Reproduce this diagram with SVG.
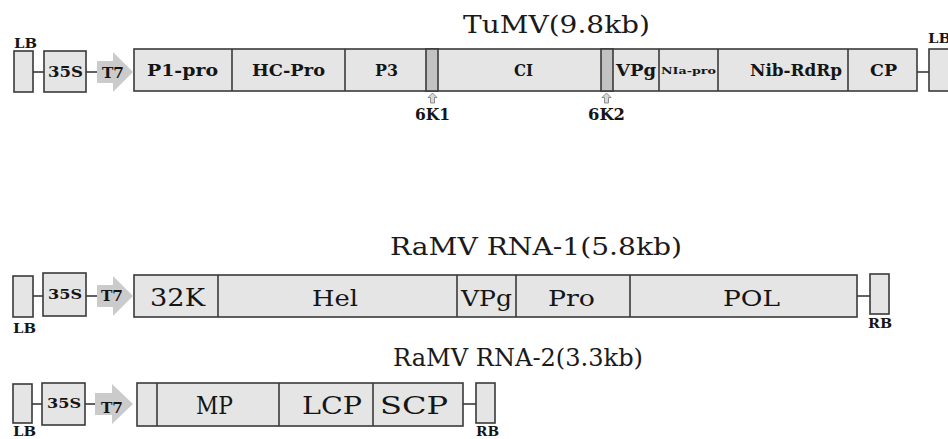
<svg xmlns="http://www.w3.org/2000/svg" width="948" height="439" viewBox="0 0 948 439">
<style>
.bg{fill:#ffffff}
.box{fill:#e5e5e5;stroke:#3a3a3a;stroke-width:1.6}
.strip{fill:#c2c2c2;stroke:#3a3a3a;stroke-width:1.6}
.div{stroke:#3a3a3a;stroke-width:1.6;fill:none}
.ln{stroke:#3a3a3a;stroke-width:1.6;fill:none}
.arr{fill:#cbcbcb}
.mk{fill:#d8d8d8;stroke:#777;stroke-width:0.8}
.b{font-family:"DejaVu Serif","Liberation Serif",serif;font-weight:bold;fill:#151515}
.r{font-family:"DejaVu Serif","Liberation Serif",serif;font-weight:normal;fill:#151515}
.t{font-family:"DejaVu Serif","Liberation Serif",serif;font-weight:normal;fill:#1a1a1a}
</style>
<rect class="bg" x="0" y="0" width="948" height="439"/>

<!-- ===== TuMV ===== -->
<text class="t" x="463" y="33" font-size="25" textLength="187" lengthAdjust="spacingAndGlyphs">TuMV(9.8kb)</text>
<g id="tumv-connectors">
  <line class="ln" x1="33" y1="72" x2="44" y2="72"/>
  <line class="ln" x1="86" y1="72" x2="97" y2="72"/>
  <line class="ln" x1="917" y1="72" x2="929" y2="72"/>
</g>
<g id="tumv-lb">
  <rect class="box" x="14" y="51" width="19" height="41"/>
  <text class="b" x="14" y="48" font-size="13" textLength="23" lengthAdjust="spacingAndGlyphs">LB</text>
</g>
<g id="tumv-35s">
  <rect class="box" x="44" y="51" width="42" height="41"/>
  <text class="b" x="48" y="77" font-size="14" textLength="35" lengthAdjust="spacingAndGlyphs">35S</text>
</g>
<g id="tumv-t7">
  <polygon class="arr" points="97,61 113,61 113,52 133,72 113,92 113,83 97,83"/>
  <text class="b" x="102" y="78" font-size="15" textLength="22" lengthAdjust="spacingAndGlyphs">T7</text>
</g>
<g id="tumv-genome">
  <rect class="box" x="134" y="49" width="783" height="42"/>
  <rect class="strip" x="426" y="49" width="12" height="42"/>
  <rect class="strip" x="601" y="49" width="12" height="42"/>
  <line class="div" x1="232" y1="49" x2="232" y2="91"/>
  <line class="div" x1="345" y1="49" x2="345" y2="91"/>
  <line class="div" x1="659" y1="49" x2="659" y2="91"/>
  <line class="div" x1="718" y1="49" x2="718" y2="91"/>
  <line class="div" x1="848" y1="49" x2="848" y2="91"/>
  <text class="b" x="147" y="76" font-size="16" textLength="71" lengthAdjust="spacingAndGlyphs">P1-pro</text>
  <text class="b" x="252" y="76" font-size="16" textLength="73" lengthAdjust="spacingAndGlyphs">HC-Pro</text>
  <text class="b" x="375" y="76" font-size="16" textLength="23" lengthAdjust="spacingAndGlyphs">P3</text>
  <text class="b" x="514" y="76" font-size="16" textLength="19" lengthAdjust="spacingAndGlyphs">CI</text>
  <text class="b" x="616" y="76" font-size="16" textLength="40" lengthAdjust="spacingAndGlyphs">VPg</text>
  <text class="b" x="661" y="74" font-size="9" textLength="55" lengthAdjust="spacingAndGlyphs">NIa-pro</text>
  <text class="b" x="750" y="76" font-size="16" textLength="92" lengthAdjust="spacingAndGlyphs">Nib-RdRp</text>
  <text class="b" x="870" y="76" font-size="16" textLength="27" lengthAdjust="spacingAndGlyphs">CP</text>
</g>
<g id="tumv-6k1">
  <polygon class="mk" points="432.5,93 437,97.5 434.5,97.5 434.5,103 430.5,103 430.5,97.5 428,97.5"/>
  <text class="b" x="415" y="120" font-size="16" textLength="35" lengthAdjust="spacingAndGlyphs">6K1</text>
</g>
<g id="tumv-6k2">
  <polygon class="mk" points="606.5,93 611,97.5 608.5,97.5 608.5,103 604.5,103 604.5,97.5 602,97.5"/>
  <text class="b" x="588" y="120" font-size="16" textLength="37" lengthAdjust="spacingAndGlyphs">6K2</text>
</g>
<g id="tumv-lb-right">
  <rect class="box" x="929" y="49" width="20" height="42"/>
  <text class="b" x="928" y="43" font-size="13" textLength="23" lengthAdjust="spacingAndGlyphs">LB</text>
</g>

<!-- ===== RaMV RNA-1 ===== -->
<text class="t" x="390" y="255" font-size="24" textLength="292" lengthAdjust="spacingAndGlyphs">RaMV RNA-1(5.8kb)</text>
<g id="rna1-connectors">
  <line class="ln" x1="33" y1="296" x2="43" y2="296"/>
  <line class="ln" x1="86" y1="296" x2="97" y2="296"/>
  <line class="ln" x1="857" y1="296" x2="870" y2="296"/>
</g>
<g id="rna1-lb">
  <rect class="box" x="13" y="276" width="20" height="41"/>
  <text class="b" x="13" y="333" font-size="13" textLength="23" lengthAdjust="spacingAndGlyphs">LB</text>
</g>
<g id="rna1-35s">
  <rect class="box" x="43" y="273" width="43" height="43"/>
  <text class="b" x="48" y="299" font-size="13" textLength="34" lengthAdjust="spacingAndGlyphs">35S</text>
</g>
<g id="rna1-t7">
  <polygon class="arr" points="97,285 113,285 113,276 133,296 113,316 113,307 97,307"/>
  <text class="b" x="101" y="301" font-size="14" textLength="22" lengthAdjust="spacingAndGlyphs">T7</text>
</g>
<g id="rna1-genome">
  <rect class="box" x="134" y="275" width="723" height="42"/>
  <line class="div" x1="218" y1="275" x2="218" y2="317"/>
  <line class="div" x1="457" y1="275" x2="457" y2="317"/>
  <line class="div" x1="516" y1="275" x2="516" y2="317"/>
  <line class="div" x1="630" y1="275" x2="630" y2="317"/>
  <text class="r" x="150" y="306" font-size="25" textLength="55" lengthAdjust="spacingAndGlyphs">32K</text>
  <text class="r" x="312" y="306" font-size="22" textLength="46" lengthAdjust="spacingAndGlyphs">Hel</text>
  <text class="r" x="461" y="306" font-size="22" textLength="51" lengthAdjust="spacingAndGlyphs">VPg</text>
  <text class="r" x="548" y="306" font-size="22" textLength="47" lengthAdjust="spacingAndGlyphs">Pro</text>
  <text class="r" x="723" y="306" font-size="22" textLength="57" lengthAdjust="spacingAndGlyphs">POL</text>
</g>
<g id="rna1-rb">
  <rect class="box" x="870" y="274" width="19" height="40"/>
  <text class="b" x="868" y="328" font-size="13" textLength="24" lengthAdjust="spacingAndGlyphs">RB</text>
</g>

<!-- ===== RaMV RNA-2 ===== -->
<text class="t" x="393" y="366" font-size="24" textLength="250" lengthAdjust="spacingAndGlyphs">RaMV RNA-2(3.3kb)</text>
<g id="rna2-connectors">
  <line class="ln" x1="32" y1="404" x2="42" y2="404"/>
  <line class="ln" x1="85" y1="404" x2="95" y2="404"/>
  <line class="ln" x1="463" y1="404" x2="476" y2="404"/>
</g>
<g id="rna2-lb">
  <rect class="box" x="13" y="384" width="19" height="39"/>
  <text class="b" x="13" y="436" font-size="13" textLength="23" lengthAdjust="spacingAndGlyphs">LB</text>
</g>
<g id="rna2-35s">
  <rect class="box" x="42" y="383" width="43" height="42"/>
  <text class="b" x="47" y="408" font-size="13" textLength="34" lengthAdjust="spacingAndGlyphs">35S</text>
</g>
<g id="rna2-t7">
  <polygon class="arr" points="95,393 112,393 112,384 133,404 112,424 112,415 95,415"/>
  <text class="b" x="101" y="413" font-size="14" textLength="22" lengthAdjust="spacingAndGlyphs">T7</text>
</g>
<g id="rna2-genome">
  <rect class="box" x="137" y="383" width="326" height="43"/>
  <line class="div" x1="157" y1="383" x2="157" y2="426"/>
  <line class="div" x1="279" y1="383" x2="279" y2="426"/>
  <line class="div" x1="373" y1="383" x2="373" y2="426"/>
  <text class="r" x="196" y="414" font-size="25" textLength="37" lengthAdjust="spacingAndGlyphs">MP</text>
  <text class="r" x="302" y="414" font-size="25" textLength="60" lengthAdjust="spacingAndGlyphs">LCP</text>
  <text class="r" x="380" y="414" font-size="25" textLength="68" lengthAdjust="spacingAndGlyphs">SCP</text>
</g>
<g id="rna2-rb">
  <rect class="box" x="476" y="383" width="19" height="40"/>
  <text class="b" x="476" y="436" font-size="13" textLength="23" lengthAdjust="spacingAndGlyphs">RB</text>
</g>
</svg>
